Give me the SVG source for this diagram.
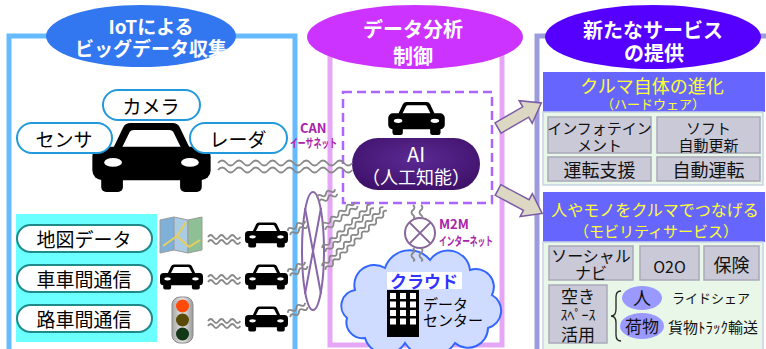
<svg xmlns="http://www.w3.org/2000/svg" xmlns:xlink="http://www.w3.org/1999/xlink" width="766" height="349" viewBox="0 0 766 349">
  <style>
    text { font-family: "Noto Sans CJK JP", "Noto Sans", sans-serif; dominant-baseline: central; text-anchor: middle; }
    .hdr { font-size: 19px; font-weight: bold; fill: #ffffff; }
    .pill { fill: #ffffff; stroke: #2299dd; stroke-width: 2; }
    .pill2 { fill: #ffffff; stroke: #1f8a8a; stroke-width: 2; }
    .lbl { font-size: 19px; fill: #000000; }
    .yel { fill: #ffff33; }
    .gbox { fill: #c9c9d8; stroke: #a9a9b8; stroke-width: 1.5; }
    .gtx { fill: #111111; }
    .wave { fill: none; stroke: #888888; stroke-width: 1.8; }
    .net { font-weight: bold; fill: #aa22aa; text-anchor: start; }
    .arrow { fill: #ddd8c4; stroke: #7b5ba6; stroke-width: 1.5; }
  </style>
  <defs>
    <symbol id="car" viewBox="0 0 120 70">
      <path d="M20,28 L31,5 Q33,0 39,0 L81,0 Q87,0 89,5 L100,28 Z" fill="#000"/>
      <path d="M30,25 L38,9 Q39,7 42,7 L78,7 Q81,7 82,9 L90,25 Z" fill="#fff"/>
      <rect x="0" y="24" width="120" height="34" rx="10" fill="#000"/>
      <ellipse cx="21" cy="40" rx="9" ry="4.5" fill="#fff"/>
      <ellipse cx="99" cy="40" rx="9" ry="4.5" fill="#fff"/>
      <rect x="9" y="50" width="22" height="20" rx="5" fill="#000"/>
      <rect x="89" y="50" width="22" height="20" rx="5" fill="#000"/>
    </symbol>
    <radialGradient id="aiFill" cx="50%" cy="40%" r="70%">
      <stop offset="0" stop-color="#5c2a94"/>
      <stop offset="1" stop-color="#3c0f66"/>
    </radialGradient>
    <linearGradient id="tlFill" x1="0" x2="1" y1="0" y2="0">
      <stop offset="0" stop-color="#a8a8a8"/>
      <stop offset="0.5" stop-color="#e6e6e6"/>
      <stop offset="1" stop-color="#9a9a9a"/>
    </linearGradient>
    <!-- block arrow pointing along +x, tail at origin -->
    <path id="blk" d="M0,-6 L32,-6 L32,-13 L50,0 L32,13 L32,6 L0,6 Z"/>
  </defs>

  <!-- panel frames -->
  <g id="frames" fill="none">
    <path d="M9,349 L9,36 L295,36 L295,349" stroke="#66bbff" stroke-width="5"/>
    <path d="M330,37 L502,37 L502,345 L330,345 Z" stroke="#e6a6f6" stroke-width="5"/>
    <path d="M537,349 L537,36 L770,36" stroke="#9c9cdc" stroke-width="5"/>
  </g>

  <!-- column headers -->
  <g id="hdr-iot">
    <ellipse cx="141" cy="36" rx="95" ry="31" fill="#3377f0"/>
    <text class="hdr"><tspan x="151" y="25">IoTによる</tspan><tspan x="151" y="47">ビッグデータ収集</tspan></text>
  </g>
  <g id="hdr-analysis">
    <ellipse cx="415" cy="37" rx="108" ry="32" fill="#cc33ff"/>
    <text class="hdr" style="font-size:20px"><tspan x="413" y="28">データ分析</tspan><tspan x="413" y="55">制御</tspan></text>
  </g>
  <g id="hdr-service">
    <ellipse cx="653" cy="37" rx="108" ry="32" fill="#5500ff"/>
    <text class="hdr" style="font-size:20px"><tspan x="653" y="29">新たなサービス</tspan><tspan x="654" y="52">の提供</tspan></text>
  </g>

  <!-- vehicle with sensors -->
  <g id="vehicle">
    <use href="#car" x="90" y="123" width="123" height="69"/>
  </g>
  <g id="camera">
    <rect class="pill" x="103" y="90" width="97" height="30" rx="15"/>
    <text class="lbl" x="151" y="105">カメラ</text>
  </g>
  <g id="sensor">
    <rect class="pill" x="17" y="123" width="95" height="30" rx="15"/>
    <text class="lbl" x="64" y="138">センサ</text>
  </g>
  <g id="radar">
    <rect class="pill" x="190" y="123" width="97" height="30" rx="15"/>
    <text class="lbl" x="238" y="138">レーダ</text>
  </g>

  <!-- external data sources -->
  <g id="sources">
    <rect x="16" y="214" width="141" height="128" fill="#6cffff"/>
    <rect class="pill2" x="17" y="225" width="135" height="27" rx="13.5"/>
    <text class="lbl" x="84" y="238.5">地図データ</text>
    <rect class="pill2" x="17" y="265" width="135" height="27" rx="13.5"/>
    <text class="lbl" x="84" y="278.5">車車間通信</text>
    <rect class="pill2" x="17" y="305" width="135" height="27" rx="13.5"/>
    <text class="lbl" x="84" y="318.5">路車間通信</text>
  </g>
  <g id="map-icon" stroke="#9a9a9a" stroke-width="1">
    <polygon points="160,220 174,217 174,250 160,253" fill="#7fb0d8"/>
    <polygon points="174,217 188,220 188,253 174,250" fill="#a9cbe3"/>
    <polygon points="188,220 202,217 202,250 188,253" fill="#8fbf94"/>
    <path d="M163,246 L177,236 L189,247 M177,236 L186,222 M189,247 L200,240" fill="none" stroke="#e8cf5a" stroke-width="2"/>
  </g>
  <g id="cars-v2v">
    <use href="#car" x="160" y="264" width="43" height="26"/>
    <use href="#car" x="245" y="222" width="43" height="26"/>
    <use href="#car" x="245" y="264" width="43" height="26"/>
    <use href="#car" x="245" y="306" width="43" height="26"/>
  </g>
  <g id="traffic-light">
    <rect x="172" y="297" width="21" height="46" rx="8" fill="url(#tlFill)" stroke="#8a8a8a" stroke-width="1"/>
    <circle cx="182.5" cy="306" r="6.5" fill="#ff4a0a"/>
    <circle cx="182.5" cy="320" r="6.5" fill="#5a4a08"/>
    <circle cx="182.5" cy="334" r="6.5" fill="#123818"/>
  </g>

  <!-- AI unit -->
  <g id="ai-unit">
    <rect x="343" y="92" width="149" height="111" fill="none" stroke="#aa66ff" stroke-width="2.5" stroke-dasharray="9 5"/>
    <use href="#car" x="388" y="102" width="57" height="33"/>
    <rect x="352" y="138" width="128" height="52" rx="26" fill="url(#aiFill)"/>
    <text fill="#fff"><tspan x="416" y="153" font-size="20">AI</tspan><tspan x="416" y="176" font-size="18">（人工知能）</tspan></text>
  </g>

  <!-- M2M hub -->
  <g id="m2m">
    <circle cx="420" cy="233" r="15" fill="#fff" stroke="#886699" stroke-width="2"/>
    <path d="M409.4,222.4 L430.6,243.6 M430.6,222.4 L409.4,243.6" stroke="#886699" stroke-width="2"/>
    <text class="net"><tspan x="439" y="223" font-size="13">M2M</tspan><tspan x="439" y="240" font-size="12" textLength="54" lengthAdjust="spacingAndGlyphs">インターネット</tspan></text>
  </g>

  <!-- cloud data center -->
  <g id="cloud">
    <path d="M365,338 A16,16 0 0 1 347,318 A16,16 0 0 1 355,290 A20,20 0 0 1 385,268 A26,26 0 0 1 430,260 A22,22 0 0 1 470,270 A18,18 0 0 1 492,295 A18,18 0 0 1 488,328 A20,20 0 0 1 455,343 A30,30 0 0 1 405,343 A22,22 0 0 1 365,338 Z" fill="#cfdcff" stroke="#3366ff" stroke-width="2"/>
    <rect x="387" y="272" width="75" height="17" fill="#fff"/>
    <text x="424" y="280" font-size="17" font-weight="bold" fill="#3333ff">クラウド</text>
    <rect x="387" y="290" width="32" height="47" fill="#000"/>
    <g fill="#fff">
      <rect x="390" y="293" width="6" height="6"/><rect x="400" y="293" width="6" height="6"/><rect x="410" y="293" width="6" height="6"/>
      <rect x="390" y="301.5" width="6" height="6"/><rect x="400" y="301.5" width="6" height="6"/><rect x="410" y="301.5" width="6" height="6"/>
      <rect x="390" y="310" width="6" height="6"/><rect x="400" y="310" width="6" height="6"/><rect x="410" y="310" width="6" height="6"/>
      <rect x="390" y="318.5" width="6" height="6"/><rect x="400" y="318.5" width="6" height="6"/><rect x="410" y="318.5" width="6" height="6"/>
    </g>
    <text font-size="15" style="text-anchor:start"><tspan x="423" y="303">データ</tspan><tspan x="423" y="319">センター</tspan></text>
  </g>

  <!-- in-vehicle network label -->
  <g id="can-label">
    <text class="net"><tspan x="300" y="127" font-size="13">CAN</tspan><tspan x="290" y="142" font-size="12" textLength="47" lengthAdjust="spacingAndGlyphs">イーサネット</tspan></text>
  </g>

  <!-- wireless aggregation -->
  <g id="aggregator" fill="none" stroke="#8866aa" stroke-width="2">
    <ellipse cx="313" cy="251" rx="11" ry="59"/>
    <path d="M305,208 L321,294 M321,208 L305,294"/>
  </g>

  <!-- connectors -->
  <g id="connectors">
    <g class="wave">
      <!-- vehicle to AI -->
      <path d="M218,163 q4.2,-5 8.4,0 t8.4,0 t8.4,0 t8.4,0 t8.4,0 t8.4,0 t8.4,0 t8.4,0 t8.4,0 t8.4,0 t8.4,0 t8.4,0 t8.4,0 t8.4,0 t8.4,0 t8.4,0"/>
      <path d="M218,170 q4.2,-5 8.4,0 t8.4,0 t8.4,0 t8.4,0 t8.4,0 t8.4,0 t8.4,0 t8.4,0 t8.4,0 t8.4,0 t8.4,0 t8.4,0 t8.4,0 t8.4,0 t8.4,0 t8.4,0"/>
      <!-- sources to cars -->
      <path d="M208,237 q2.7,-4 5.4,0 t5.4,0 t5.4,0 t5.4,0 t5.4,0 t5.4,0"/>
      <path d="M208,242 q2.7,-4 5.4,0 t5.4,0 t5.4,0 t5.4,0 t5.4,0 t5.4,0"/>
      <path d="M208,277 q2.7,-4 5.4,0 t5.4,0 t5.4,0 t5.4,0 t5.4,0 t5.4,0"/>
      <path d="M208,282 q2.7,-4 5.4,0 t5.4,0 t5.4,0 t5.4,0 t5.4,0 t5.4,0"/>
      <path d="M208,321 q2.7,-4 5.4,0 t5.4,0 t5.4,0 t5.4,0 t5.4,0 t5.4,0"/>
      <path d="M208,326 q2.7,-4 5.4,0 t5.4,0 t5.4,0 t5.4,0 t5.4,0 t5.4,0"/>
      <!-- cars to aggregator -->
      <g transform="translate(289,233) rotate(-30)">
        <path d="M0,-2.5 q2.5,-3.5 5,0 t5,0 t5,0 t5,0"/><path d="M0,2.5 q2.5,-3.5 5,0 t5,0 t5,0 t5,0"/>
      </g>
      <g transform="translate(289,274) rotate(-30)">
        <path d="M0,-2.5 q2.5,-3.5 5,0 t5,0 t5,0 t5,0"/><path d="M0,2.5 q2.5,-3.5 5,0 t5,0 t5,0 t5,0"/>
      </g>
      <g transform="translate(289,315) rotate(-30)">
        <path d="M0,-2.5 q2.5,-3.5 5,0 t5,0 t5,0 t5,0"/><path d="M0,2.5 q2.5,-3.5 5,0 t5,0 t5,0 t5,0"/>
      </g>
      <!-- aggregator to AI -->
      <g transform="translate(318,200) rotate(-25)">
        <path d="M0,-2.5 q2.5,-3.5 5,0 t5,0 t5,0 t5,0"/><path d="M0,2.5 q2.5,-3.5 5,0 t5,0 t5,0 t5,0"/>
      </g>
      <g transform="translate(324,228) rotate(-37)">
        <path d="M0,-2.5 q2.5,-3.5 5,0 t5,0 t5,0 t5,0 t5,0 t5,0 t5,0 t5,0"/><path d="M0,2.5 q2.5,-3.5 5,0 t5,0 t5,0 t5,0 t5,0 t5,0 t5,0 t5,0"/>
      </g>
      <g transform="translate(324,250) rotate(-42)">
        <path d="M0,-2.5 q2.5,-3.5 5,0 t5,0 t5,0 t5,0 t5,0 t5,0 t5,0 t5,0 t5,0 t5,0 t5,0 t5,0 t5,0"/><path d="M0,2.5 q2.5,-3.5 5,0 t5,0 t5,0 t5,0 t5,0 t5,0 t5,0 t5,0 t5,0 t5,0 t5,0 t5,0 t5,0"/>
      </g>
      <g transform="translate(324,268) rotate(-44)">
        <path d="M0,-2.5 q2.5,-3.5 5,0 t5,0 t5,0 t5,0 t5,0 t5,0 t5,0 t5,0 t5,0 t5,0 t5,0 t5,0 t5,0 t5,0 t5,0 t5,0 t5,0"/><path d="M0,2.5 q2.5,-3.5 5,0 t5,0 t5,0 t5,0 t5,0 t5,0 t5,0 t5,0 t5,0 t5,0 t5,0 t5,0 t5,0 t5,0 t5,0 t5,0 t5,0"/>
      </g>
      <!-- AI to M2M to cloud -->
      <g transform="translate(417,205) rotate(90)">
        <path d="M0,-4 q2.5,-3 5,0 t5,0 t3,0"/><path d="M0,4 q2.5,-3 5,0 t5,0 t3,0"/>
      </g>
      <g transform="translate(417,248) rotate(90)">
        <path d="M0,-4 q2.5,-3 5,0 t5,0 t3,0"/><path d="M0,4 q2.5,-3 5,0 t5,0 t3,0"/>
      </g>
    </g>
    <!-- flows to services -->
    <use class="arrow" href="#blk" transform="translate(498,128) rotate(-30)"/>
    <use class="arrow" href="#blk" transform="translate(498,190) rotate(28)"/>
  </g>

  <!-- hardware evolution -->
  <g id="svc-hardware">
    <rect x="543" y="72" width="222" height="40" fill="#6666ff"/>
    <text class="yel"><tspan x="652" y="85" font-size="18">クルマ自体の進化</tspan><tspan x="653" y="103" font-size="13">（ハードウェア）</tspan></text>
    <rect x="543" y="112" width="220" height="73" fill="#e8f7e8" stroke="#c6d4e4" stroke-width="1.5"/>
    <rect class="gbox" x="548" y="117" width="103" height="36"/>
    <text class="gtx" font-size="15"><tspan x="599.5" y="127">インフォテイン</tspan><tspan x="599.5" y="144">メント</tspan></text>
    <rect class="gbox" x="657" y="117" width="103" height="36"/>
    <text class="gtx" font-size="15"><tspan x="708.5" y="127">ソフト</tspan><tspan x="708.5" y="144">自動更新</tspan></text>
    <rect class="gbox" x="548" y="157" width="103" height="24"/>
    <text class="gtx" x="599.5" y="169" font-size="18">運転支援</text>
    <rect class="gbox" x="657" y="157" width="103" height="24"/>
    <text class="gtx" x="708.5" y="169" font-size="18">自動運転</text>
  </g>

  <!-- mobility services -->
  <g id="svc-mobility">
    <rect x="543" y="192" width="222" height="50" fill="#6666ff"/>
    <text class="yel"><tspan x="655" y="209" font-size="16">人やモノをクルマでつなげる</tspan><tspan x="656" y="230" font-size="15">（モビリティサービス）</tspan></text>
    <rect x="543" y="242" width="220" height="110" fill="#e8f7e8" stroke="#c6d4e4" stroke-width="1.5"/>
    <rect class="gbox" x="549" y="246" width="84" height="34"/>
    <text class="gtx" font-size="16"><tspan x="591" y="255">ソーシャル</tspan><tspan x="591" y="272">ナビ</tspan></text>
    <rect class="gbox" x="640" y="246" width="59" height="34"/>
    <text class="gtx" x="669.5" y="266" font-size="16">O2O</text>
    <rect class="gbox" x="704" y="246" width="55" height="34"/>
    <text class="gtx" x="731.5" y="264" font-size="18">保険</text>
    <rect class="gbox" x="549" y="285" width="58" height="58"/>
    <text class="gtx"><tspan x="578" y="295" font-size="17">空き</tspan><tspan x="578" y="314" font-size="14">ｽﾍﾟｰｽ</tspan><tspan x="578" y="333" font-size="17">活用</tspan></text>
    <path d="M621,291 q-5,0 -5,6 v12 q0,7 -5,7 q5,0 5,7 v12 q0,6 5,6" fill="none" stroke="#222" stroke-width="1.3"/>
    <ellipse cx="642" cy="298" rx="20" ry="12" fill="#9999ff"/>
    <text class="gtx" x="642" y="297" font-size="18">人</text>
    <ellipse cx="642" cy="326" rx="22" ry="13" fill="#9999ff"/>
    <text class="gtx" x="642" y="325" font-size="17">荷物</text>
    <text class="gtx" x="672" y="297" font-size="13" style="text-anchor:start">ライドシェア</text>
    <text class="gtx" x="668" y="326" font-size="15" style="text-anchor:start">貨物ﾄﾗｯｸ輸送</text>
  </g>
</svg>
